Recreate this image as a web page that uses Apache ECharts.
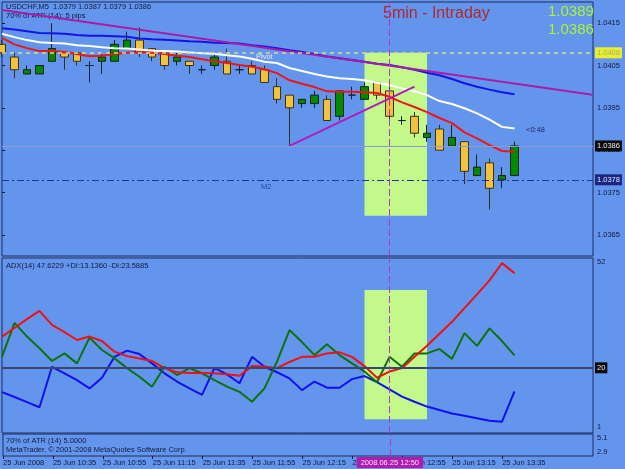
<!DOCTYPE html>
<html>
<head>
<meta charset="utf-8">
<script src="https://cdn.jsdelivr.net/npm/echarts@6/dist/echarts.min.js"></script>
<style>
html, body { margin: 0; padding: 0; background: #6495ed; }
#chart { width: 625px; height: 469px; }
</style>
</head>
<body>
<div id="chart"></div>
<script>
// USDCHF M5, bar 0 = 25 Jun 10:15
// open, close, low, high
var candles = [
    [1.0410, 1.0408, 1.0407, 1.0411],
    [1.0407, 1.0404, 1.0402, 1.0408],
    [1.0403, 1.0404, 1.0403, 1.0405],
    [1.0403, 1.0405, 1.0403, 1.0405],
    [1.0406, 1.0409, 1.0406, 1.0415],
    [1.0408, 1.0407, 1.0404, 1.0408],
    [1.0408, 1.0406, 1.0405, 1.0408],
    [1.0405, 1.0405, 1.0401, 1.0406],
    [1.0406, 1.0407, 1.0403, 1.0408],
    [1.0406, 1.0410, 1.0406, 1.0411],
    [1.0409, 1.0411, 1.0409, 1.0413],
    [1.0411, 1.0408, 1.0407, 1.0414],
    [1.0409, 1.0407, 1.0406, 1.0409],
    [1.0408, 1.0405, 1.0404, 1.0408],
    [1.0406, 1.0407, 1.0405, 1.0408],
    [1.0406, 1.0405, 1.0403, 1.0406],
    [1.0404, 1.0404, 1.0403, 1.0405],
    [1.0405, 1.0407, 1.0404, 1.0408],
    [1.0406, 1.0403, 1.0403, 1.0409],
    [1.0404, 1.0404, 1.0403, 1.0405],
    [1.0405, 1.0403, 1.0403, 1.0406],
    [1.0404, 1.0401, 1.0401, 1.0405],
    [1.0400, 1.0397, 1.0396, 1.0402],
    [1.0398, 1.0395, 1.0386, 1.0398],
    [1.0396, 1.0397, 1.0395, 1.0397],
    [1.0396, 1.0398, 1.0395, 1.0399],
    [1.0397, 1.0392, 1.0392, 1.0398],
    [1.0393, 1.0399, 1.0392, 1.0399],
    [1.0398, 1.0398, 1.0397, 1.0400],
    [1.0397, 1.0400, 1.0397, 1.0401],
    [1.0401, 1.0398, 1.0397, 1.0401],
    [1.0399, 1.0393, 1.0392, 1.0400],
    [1.0392, 1.0392, 1.0391, 1.0393],
    [1.0393, 1.0389, 1.0388, 1.0394],
    [1.0388, 1.0389, 1.0387, 1.0391],
    [1.0390, 1.0385, 1.0385, 1.0391],
    [1.0386, 1.0388, 1.0386, 1.0391],
    [1.0387, 1.0380, 1.0377, 1.0387],
    [1.0379, 1.0381, 1.0379, 1.0384],
    [1.0382, 1.0376, 1.0371, 1.0383],
    [1.0378, 1.0379, 1.0376, 1.0381],
    [1.0379, 1.0386, 1.0379, 1.0387]
];

var redMA = [1.04115, 1.04100, 1.04091, 1.04084, 1.04084, 1.04082, 1.04077, 1.04072, 1.04073, 1.04077,
    1.04080, 1.04082, 1.04080, 1.04077, 1.04073, 1.04070, 1.04065, 1.04060, 1.04056, 1.04051,
    1.04047, 1.04041, 1.04032, 1.04015, 1.04007, 1.03999, 1.03989, 1.03988, 1.03988, 1.03987,
    1.03985, 1.03976, 1.03963, 1.03952, 1.03940, 1.03926, 1.03914, 1.03892, 1.03878, 1.03862,
    1.03848, 1.03846];
var whiteMA = [1.04125, 1.04117, 1.04110, 1.04105, 1.04103, 1.04102, 1.04098, 1.04096, 1.04093, 1.04091,
    1.04090, 1.04088, 1.04085, 1.04084, 1.04083, 1.04081, 1.04079, 1.04078, 1.04074, 1.04071,
    1.04066, 1.04059, 1.04056, 1.04044, 1.04037, 1.04030, 1.04024, 1.04020, 1.04018, 1.04015,
    1.04009, 1.04004, 1.03996, 1.03989, 1.03980, 1.03966, 1.03959, 1.03949, 1.03937, 1.03922,
    1.03905, 1.03901];
var blueMA = [1.04138, 1.04135, 1.04131, 1.04127, 1.04126, 1.04125, 1.04122, 1.04120, 1.04120, 1.04119,
    1.04118, 1.04114, 1.04112, 1.04111, 1.04109, 1.04107, 1.04106, 1.04104, 1.04103, 1.04102,
    1.04098, 1.04095, 1.04091, 1.04086, 1.04082, 1.04077, 1.04071, 1.04067, 1.04063, 1.04059,
    1.04054, 1.04051, 1.04046, 1.04040, 1.04033, 1.04027, 1.04018, 1.04008, 1.04000, 1.03993,
    1.03987, 1.03982];

// trend lines (bar index, price)
var trendBars = [0, 47.24];
var trendPrices = [1.04181, 1.03981];
var wedgeBars = [23, 33];
var wedgePrices = [1.0386, 1.0400];

// ADX(14)
var adx = [29.1, 31.6, 34.2, 36.6, 32.5, 30.4, 28.1, 29.1, 27.8, 24.7, 23.4, 22.7, 22.0, 19.9, 18.7,
    18.5, 18.5, 18.4, 18.1, 17.7, 20.5, 20.4, 19.9, 21.7, 23.2, 23.2, 24.2, 24.5, 23.2, 20.5,
    17.1, 18.9, 19.9, 23.2, 26.4, 29.9, 33.4, 37.4, 41.4, 45.5, 50.5, 47.6];
var minusDI = [23.2, 33.1, 29.1, 25.7, 22.0, 24.2, 21.3, 28.8, 25.2, 22.8, 19.9, 17.4, 14.5, 20.3, 17.9,
    19.9, 18.4, 16.4, 14.5, 13.0, 10.1, 14.0, 21.8, 31.0, 27.5, 23.7, 26.9, 23.7, 21.3, 18.9,
    15.8, 23.2, 20.3, 24.2, 24.2, 25.5, 22.6, 30.1, 26.4, 31.5, 27.8, 23.6];
var plusDI = [12.9, 11.5, 10.0, 8.5, 20.3, 18.4, 16.4, 14.0, 17.1, 23.2, 25.0, 24.0, 21.3, 18.4, 16.0,
    14.0, 12.1, 20.0, 18.1, 15.5, 23.2, 20.3, 18.7, 16.9, 13.5, 16.0, 14.2, 14.2, 16.7, 17.6,
    15.8, 13.7, 11.6, 10.1, 8.7, 7.7, 6.7, 6.0, 5.3, 4.6, 4.3, 13.1];

// levels and marks
var pivotLevel = 1.0408;
var m2Level = 1.0378;
var bidLevel = 1.0386;
var adxLevel = 20;
var markerBar = 31;
var markerText = '2008.06.25 12:50';
var zoneBars = [29, 34];
var zonePrice = [1.0408, 1.03695];
var zoneAdx = [42.7, 5.0];

// axis labels
var priceTicks = [1.0365, 1.0375, 1.0385, 1.0395, 1.0405, 1.0415];
var adxTicks = [52, 1];
var atrTicks = [5.1, 2.9];
var timeTicks = [0, 4, 8, 12, 16, 20, 24, 28, 32, 36, 40];
var timeLabels = ['25 Jun 2008', '25 Jun 10:35', '25 Jun 10:55', '25 Jun 11:15', '25 Jun 11:35',
    '25 Jun 11:55', '25 Jun 12:15', '25 Jun 12:35', '25 Jun 12:55', '25 Jun 13:15', '25 Jun 13:35'];

var font = 'Liberation Sans, Arial, sans-serif';
var textDark = '#101a3c';
var frame = '#1f2c58';
var zoneColor = '#c2f98a';
var markerColor = '#b236c8';

function indexed(arr) {
    return arr.map(function (v, i) { return [i, v]; });
}
function pairs(xs, ys) {
    return xs.map(function (x, i) { return [x, ys[i]]; });
}

var candleData = candles.map(function (c, i) {
    return [i, c[0], c[1], c[2], c[3]];
});

var xCommon = { type: 'value', min: 0, max: 47.28, splitLine: { show: false } };

function levelLine(value, style, labelBg, labelColor) {
    return {
        yAxis: value,
        lineStyle: style,
        label: {
            show: true,
            position: 'end',
            distance: 2,
            formatter: function (p) { return p.value.toFixed(4); },
            backgroundColor: labelBg,
            color: labelColor,
            fontSize: 7.5,
            fontFamily: font,
            padding: [2, 2, 1, 2]
        }
    };
}

var markerLine = {
    xAxis: markerBar,
    lineStyle: { color: markerColor, type: [7, 3], width: 1 },
    label: { show: false }
};

var option = {
    animation: false,
    backgroundColor: '#6495ed',
    grid: [
        { left: 2, right: 32, top: 2, height: 254, show: true, borderColor: frame, borderWidth: 1, backgroundColor: 'transparent' },
        { left: 2, right: 32, top: 258, height: 175, show: true, borderColor: frame, borderWidth: 1, backgroundColor: 'transparent' },
        { left: 2, right: 32, top: 434, height: 22, show: true, borderColor: frame, borderWidth: 1, backgroundColor: 'transparent' }
    ],
    xAxis: [
        Object.assign({ gridIndex: 0, show: false }, xCommon),
        Object.assign({ gridIndex: 1, show: false }, xCommon),
        Object.assign({
            gridIndex: 2,
            axisLine: { show: false },
            axisTick: { show: true, length: 3, customValues: timeTicks, lineStyle: { color: textDark } },
            axisLabel: {
                customValues: timeTicks,
                align: 'left',
                margin: 3,
                fontSize: 7.5,
                fontFamily: font,
                color: textDark,
                formatter: function (v) { return timeLabels[Math.round(v / 4)] || ''; }
            }
        }, xCommon)
    ],
    yAxis: [
        {
            gridIndex: 0, type: 'value', position: 'right', min: 1.0360, max: 1.0420, scale: true,
            splitLine: { show: false },
            axisLine: { show: false },
            axisTick: { show: true, length: 3, customValues: priceTicks, lineStyle: { color: textDark } },
            axisLabel: {
                customValues: priceTicks, margin: 4, fontSize: 7.5, fontFamily: font, color: textDark,
                formatter: function (v) { return v.toFixed(4); }
            }
        },
        {
            gridIndex: 1, type: 'value', position: 'right', min: 1, max: 52,
            splitLine: { show: false },
            axisLine: { show: false },
            axisTick: { show: false },
            axisLabel: {
                customValues: adxTicks, margin: 4, fontSize: 7.5, fontFamily: font, color: textDark,
                formatter: function (v) { return v > 26 ? '{t|' + v + '}' : '{b|' + v + '}'; },
                rich: {
                    t: { padding: [8, 0, 0, 0], fontSize: 7.5, fontFamily: font, color: textDark },
                    b: { padding: [0, 0, 12, 0], fontSize: 7.5, fontFamily: font, color: textDark }
                }
            }
        },
        {
            gridIndex: 2, type: 'value', position: 'right', min: 2.3, max: 5.7,
            splitLine: { show: false },
            axisLine: { show: false },
            axisTick: { show: false },
            axisLabel: {
                customValues: atrTicks, margin: 4, fontSize: 7.5, fontFamily: font, color: textDark,
                formatter: function (v) { return v.toFixed(1); }
            }
        }
    ],
    series: [
        {
            type: 'candlestick',
            xAxisIndex: 0, yAxisIndex: 0,
            data: candleData,
            encode: { x: 0, y: [1, 2, 3, 4] },
            barWidth: 8,
            clip: true,
            itemStyle: {
                color: '#008a00',
                color0: '#f2c23c',
                borderColor: '#14201a',
                borderColor0: '#3a3018',
                borderColorDoji: '#14203a',
                borderWidth: 1
            },
            markArea: {
                silent: true,
                itemStyle: { color: zoneColor },
                data: [[{ xAxis: zoneBars[0], yAxis: zonePrice[0] }, { xAxis: zoneBars[1], yAxis: zonePrice[1] }]]
            }
        },
        {
            type: 'line', xAxisIndex: 0, yAxisIndex: 0, data: indexed(blueMA), showSymbol: false,
            lineStyle: { color: '#1414e8', width: 2 },
            markLine: {
                silent: true,
                precision: 5,
                symbol: ['none', 'none'],
                data: [
                    levelLine(pivotLevel, { color: '#d6de8a', type: [4, 4], width: 1.5 }, '#e8ef2c', '#a8aa78'),
                    levelLine(bidLevel, { color: '#8c9ccc', type: 'solid', width: 1 }, '#0a0a0a', '#e8e8e8'),
                    levelLine(m2Level, { color: '#1c3596', type: [7, 3, 2, 3], width: 1 }, '#1a2680', '#dfe4ff'),
                    markerLine
                ]
            }
        },
        { type: 'line', xAxisIndex: 0, yAxisIndex: 0, data: indexed(whiteMA), showSymbol: false, lineStyle: { color: '#ffffff', width: 2 } },
        { type: 'line', xAxisIndex: 0, yAxisIndex: 0, data: indexed(redMA), showSymbol: false, lineStyle: { color: '#f01414', width: 2 } },
        { type: 'line', xAxisIndex: 0, yAxisIndex: 0, data: pairs(trendBars, trendPrices), showSymbol: false, clip: true, lineStyle: { color: '#a81ca8', width: 2 } },
        { type: 'line', xAxisIndex: 0, yAxisIndex: 0, data: pairs(wedgeBars, wedgePrices), showSymbol: false, lineStyle: { color: '#b01cc0', width: 2 } },
        {
            type: 'line', xAxisIndex: 1, yAxisIndex: 1, data: indexed(plusDI), showSymbol: false,
            lineStyle: { color: '#1010f0', width: 2 },
            markArea: {
                silent: true,
                itemStyle: { color: zoneColor },
                data: [[{ xAxis: zoneBars[0], yAxis: zoneAdx[0] }, { xAxis: zoneBars[1], yAxis: zoneAdx[1] }]]
            },
            markLine: {
                silent: true,
                precision: 2,
                symbol: ['none', 'none'],
                data: [
                    {
                        yAxis: adxLevel,
                        lineStyle: { color: '#3a4670', type: 'solid', width: 2 },
                        label: {
                            show: true, position: 'end', distance: 2, formatter: String(adxLevel),
                            backgroundColor: '#0a0a0a', color: '#e8e8e8', fontSize: 7.5, fontFamily: font, padding: [2, 2, 1, 2]
                        }
                    },
                    markerLine
                ]
            }
        },
        { type: 'line', xAxisIndex: 1, yAxisIndex: 1, data: indexed(minusDI), showSymbol: false, lineStyle: { color: '#0c720c', width: 2 } },
        { type: 'line', xAxisIndex: 1, yAxisIndex: 1, data: indexed(adx), showSymbol: false, lineStyle: { color: '#f01010', width: 2 } },
        {
            type: 'line', xAxisIndex: 2, yAxisIndex: 2, data: [], showSymbol: false,
            markLine: {
                silent: true,
                symbol: ['none', 'none'],
                data: [{
                    xAxis: markerBar,
                    lineStyle: { color: markerColor, type: [7, 3], width: 1 },
                    label: {
                        show: true, position: 'start', distance: 1, formatter: markerText,
                        backgroundColor: '#b01cb0', color: '#f4e0f4', fontSize: 7.5, fontFamily: font, padding: [2, 4, 1, 4]
                    }
                }]
            }
        }
    ],
    graphic: [
        { type: 'text', left: 6, top: 3, style: { text: 'USDCHF,M5  1.0379 1.0387 1.0379 1.0386', fill: textDark, fontSize: 7.5, fontFamily: font } },
        { type: 'text', left: 6, top: 12, style: { text: '70% of ATR (14): 5 pips', fill: textDark, fontSize: 7.5, fontFamily: font } },
        { type: 'text', left: 383, top: 6, style: { text: '5min - Intraday', fill: '#b0282c', fontSize: 16, fontFamily: font } },
        { type: 'text', left: 548, top: 4, style: { text: '1.0389', fill: '#a8f530', fontSize: 15, fontFamily: font } },
        { type: 'text', left: 548, top: 22, style: { text: '1.0386', fill: '#a8f530', fontSize: 15, fontFamily: font } },
        { type: 'text', left: 256, top: 53, style: { text: 'Pivot', fill: '#e4ebff', fontSize: 7.5, fontFamily: font } },
        { type: 'text', left: 261, top: 183, style: { text: 'M2', fill: '#2646a8', fontSize: 7.5, fontFamily: font } },
        { type: 'text', left: 526, top: 126, style: { text: '<0:48', fill: '#1a2858', fontSize: 7.5, fontFamily: font } },
        { type: 'text', left: 6, top: 262, style: { text: 'ADX(14) 47.6229 +DI:13.1360 -DI:23.5885', fill: textDark, fontSize: 7.5, fontFamily: font } },
        { type: 'text', left: 6, top: 437, style: { text: '70% of ATR (14) 5.0000', fill: textDark, fontSize: 7.5, fontFamily: font } },
        { type: 'text', left: 6, top: 446, style: { text: 'MetaTrader, \u00a9 2001-2008 MetaQuotes Software Corp.', fill: textDark, fontSize: 7.5, fontFamily: font } }
    ]
};

var chart = echarts.init(document.getElementById('chart'));
chart.setOption(option);
</script>
</body>
</html>
